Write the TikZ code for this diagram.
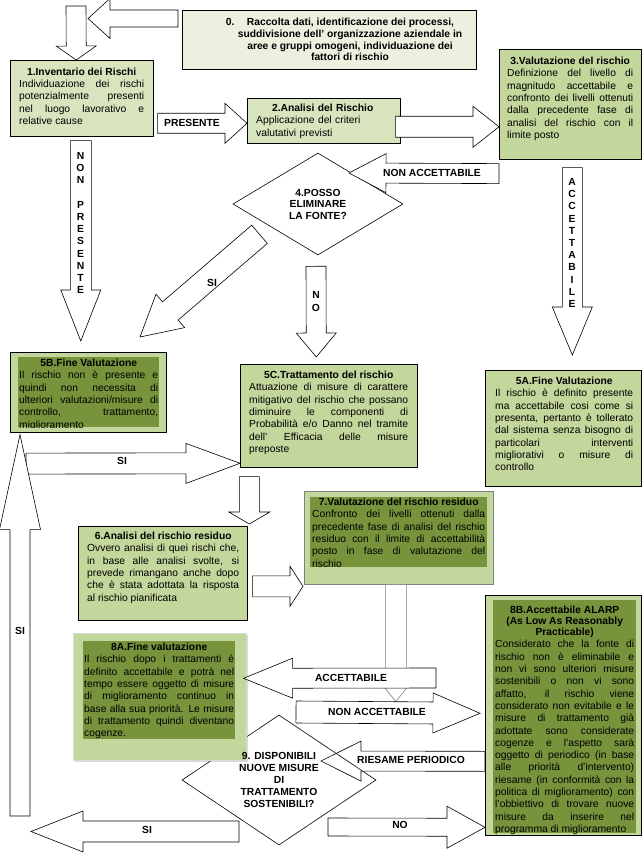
\documentclass[tikz,border=0pt]{standalone}
\usepackage{fontspec}
\setmainfont{Liberation Sans}
\usetikzlibrary{shapes.geometric,positioning,calc,shadows}

\definecolor{pale}{HTML}{EBF1DE}
\definecolor{light}{HTML}{D7E4BD}
\definecolor{mid}{HTML}{C3D69B}
\definecolor{dark}{HTML}{77933C}

\setlength{\parindent}{0pt}
\tolerance=10000
\hyphenpenalty=10000

\newcommand{\ttl}[1]{{\centering\bfseries #1\par}}
\newcommand{\blockarrow}[6][]{%
	\coordinate (bh) at ($(#3)!#6!(#2)$);
	\draw[barrow,#1] ($(#2)!#4!90:(#3)$) -- ($(bh)!#4!90:(#3)$) -- ($(bh)!#5!90:(#3)$) -- (#3)
	-- ($(bh)!#5!-90:(#3)$) -- ($(bh)!#4!-90:(#3)$) -- ($(#2)!#4!-90:(#3)$) -- cycle;}

\begin{document}
\begin{tikzpicture}[x=1pt, y=-1pt]
		\tikzstyle{box}=[draw=black, anchor=north west, inner sep=0pt, line width=0.6pt]
		\tikzstyle{inbox}=[fill=dark, anchor=north west, inner sep=0pt]
		\tikzstyle{txt}=[anchor=north west, inner sep=0pt, align=justify, font=\fontsize{10.3}{12.3}\selectfont]
		\tikzstyle{decision}=[diamond, draw=black, fill=white, aspect=1.5, inner sep=0pt, align=center, line width=0.6pt, font=\bfseries\fontsize{10.3}{12.2}\selectfont]
		\tikzstyle{lbl}=[inner sep=0pt, align=center, font=\bfseries\fontsize{10.3}{12.2}\selectfont]
		\tikzstyle{barrow}=[draw=black, fill=white, line width=0.6pt, line join=miter]
		\useasboundingbox (0,0) rectangle (642,853);

		% steps
		\node[box, fill=pale, minimum width=294pt, minimum height=59pt] (S0) at (182,10) {};
		\node[txt, align=center, anchor=north, font=\bfseries\fontsize{10.3}{11.7}\selectfont] at (350,18) {\hspace*{-20pt}0.\hspace{1.2em}Raccolta dati, identificazione dei processi,\\suddivisione dell’ organizzazione aziendale in\\aree e gruppi omogeni, individuazione dei\\fattori di rischio};

		\node[box, fill=light, minimum width=143pt, minimum height=76pt] (S1) at (10,60) {};
		\node[txt, text width=125pt] at (19,67.5) {\ttl{1.Inventario dei Rischi}Individuazione dei rischi\linebreak potenzialmente presenti\linebreak nel luogo lavorativo e\linebreak relative cause};

		\node[box, fill=light, minimum width=153pt, minimum height=45pt] (S2) at (247,98) {};
		\node[txt, text width=133pt, align=left] at (256,104) {\ttl{2.Analisi del Rischio}Applicazione del criteri\newline valutativi previsti};

		\node[box, fill=mid, minimum width=142pt, minimum height=110pt] (S3) at (499,49) {};
		\node[txt, text width=126pt] at (507,57) {\ttl{3.Valutazione del rischio}Definizione del livello di\linebreak magnitudo accettabile e\linebreak confronto dei livelli ottenuti\linebreak dalla precedente fase di\linebreak analisi del rischio con il\linebreak limite posto};

		\node[decision, minimum width=170pt, minimum height=102pt, font=\bfseries\fontsize{10.3}{11.5}\selectfont] (D4) at (318,204) {4.POSSO\\ELIMINARE\\LA FONTE?};

		\node[box, fill=mid, minimum width=156pt, minimum height=80pt] (S5B) at (10,352) {};
		\node[inbox, minimum width=141pt, minimum height=70pt] (S5Bin) at (18,357) {};
		\begin{scope}
			\clip (18,357) rectangle (159,427);
			\node[txt, text width=139pt] at (19,359) {\ttl{5B.Fine Valutazione}Il rischio non è presente e\linebreak quindi non necessita di\linebreak ulteriori valutazioni/misure di\linebreak controllo, trattamento,\linebreak miglioramento};
		\end{scope}

		\node[box, fill=mid, minimum width=177pt, minimum height=103pt] (S5C) at (240,364) {};
		\node[txt, text width=159pt] at (249,371) {\ttl{5C.Trattamento del rischio}Attuazione di misure di carattere\linebreak mitigativo del rischio che possano\linebreak diminuire le componenti di\linebreak Probabilità e/o Danno nel tramite\linebreak dell’ Efficacia delle misure\linebreak preposte};

		\node[box, fill=mid, minimum width=156pt, minimum height=116pt] (S5A) at (485,370) {};
		\node[txt, text width=138pt] at (495,377) {\ttl{5A.Fine Valutazione}Il rischio è definito presente\linebreak ma accettabile cosi come si\linebreak presenta, pertanto è tollerato\linebreak dal sistema senza bisogno di\linebreak particolari interventi\linebreak migliorativi o misure di\linebreak controllo};

		\node[box, fill=mid, minimum width=169pt, minimum height=94pt] (S6) at (78,526) {};
		\node[txt, text width=152pt] at (87,532) {\ttl{6.Analisi del rischio residuo}Ovvero analisi di quei rischi che,\linebreak in base alle analisi svolte, si\linebreak prevede rimangano anche dopo\linebreak che è stata adottata la risposta\linebreak al rischio pianificata};

		\node[box, draw=gray, fill=mid, minimum width=189pt, minimum height=93pt] (S7) at (304,491) {};
		\node[inbox, minimum width=177pt, minimum height=70pt] (S7in) at (310,497) {};
		\node[txt, text width=173pt] at (312,498) {\ttl{7.Valutazione del rischio residuo}Confronto dei livelli ottenuti dalla\linebreak precedente fase di analisi del rischio\linebreak residuo con il limite di accettabilità\linebreak posto in fase di valutazione del\linebreak rischio};

		% diamond 9 lies partly under box 8A, its text on top
		\node[decision, minimum width=194pt, minimum height=130pt] (D9) at (279,780) {};

		\node[box, draw=gray!30, fill=mid, minimum width=173pt, minimum height=127pt, drop shadow={shadow xshift=2pt, shadow yshift=-2pt, opacity=0.3}] (S8A) at (73,633) {};
		\node[inbox, minimum width=152pt, minimum height=98pt] (S8Ain) at (83,641) {};
		\node[txt, text width=150pt] at (84,643) {\ttl{8A.Fine valutazione}Il rischio dopo i trattamenti è\linebreak definito accettabile e potrà nel\linebreak tempo essere oggetto di misure\linebreak di miglioramento continuo in\linebreak base alla sua priorità. Le misure\linebreak di trattamento quindi diventano\linebreak cogenze.};
		\node[lbl] (D9q) at (D9.center) {9. DISPONIBILI\\NUOVE MISURE\\DI\\TRATTAMENTO\\SOSTENIBILI?};

		\node[box, fill=mid, minimum width=156pt, minimum height=240pt] (S8B) at (485,595) {};
		\node[inbox, minimum width=143pt, minimum height=233pt] (S8Bin) at (493,600) {};
		\node[txt, text width=139pt] at (495,606) {{\centering\bfseries\fontsize{10.3}{11}\selectfont 8B.Accettabile ALARP\linebreak (As Low As Reasonably\linebreak Practicable)\par}\parfillskip=0pt Considerato che la fonte di\linebreak rischio non è eliminabile e\linebreak non vi sono ulteriori misure\linebreak sostenibili o non vi sono\linebreak affatto, il rischio viene\linebreak considerato non evitabile e le\linebreak misure di trattamento già\linebreak adottate sono considerate\linebreak cogenze e l’aspetto sarà\linebreak oggetto di periodico (in base\linebreak alle priorità d’intervento)\linebreak riesame (in conformità con la\linebreak politica di miglioramento) con\linebreak l’obbiettivo di trovare nuove\linebreak misure da inserire nel\linebreak programma di miglioramento};

		% block arrows
		\coordinate (a0s) at ($(S0.north west)+(-4,8.5)$);
		\coordinate (a0t) at (88,18.5);
		\blockarrow{a0s}{a0t}{8.5pt}{20pt}{22pt}
		\coordinate (a1s) at (76,6);
		\coordinate (a1t) at ($(S1.north)+(-5.5,0)$);
		\blockarrow{a1s}{a1t}{10pt}{20pt}{14pt}
		\coordinate (a2s) at ($(S1.east)+(4,25)$);
		\coordinate (a2t) at ($(S2.west)+(0,2.5)$);
		\blockarrow{a2s}{a2t}{10pt}{20pt}{22pt}
		\coordinate (a3s) at ($(S2.east)+(-5,6)$);
		\coordinate (a3t) at ($(S3.west)+(0,22.5)$);
		\blockarrow{a3s}{a3t}{10.5pt}{20.5pt}{26pt}
		\coordinate (a4s) at ($(S3.south west)+(0,14)$);
		\coordinate (a4t) at (349,173);
		\blockarrow{a4s}{a4t}{10pt}{19.5pt}{37pt}
		\coordinate (a5s) at ($(S1.south)+(-1,4)$);
		\coordinate (a5t) at ($(S5B.north)+(-7.5,-11)$);
		\blockarrow{a5s}{a5t}{10.5pt}{20pt}{51pt}
		\coordinate (a6s) at ($(S3.south)+(2,8)$);
		\coordinate (a6t) at ($(S5A.north)+(9,-15)$);
		\blockarrow{a6s}{a6t}{10pt}{20pt}{48pt}
		\coordinate (a7s) at ($(D4.south)+(-58.5,-21)$);
		\coordinate (a7t) at (140,337);
		\blockarrow{a7s}{a7t}{12pt}{22pt}{40pt}
		\coordinate (a8s) at ($(D4.south)+(-2,11)$);
		\coordinate (a8t) at ($(S5C.north)+(-12.5,-7)$);
		\blockarrow{a8s}{a8t}{10pt}{20pt}{24pt}
		\coordinate (a9s) at ($(S5B.south west)+(16,31)$);
		\coordinate (a9t) at ($(S5C.west)+(0,47.5)$);
		\blockarrow{a9s}{a9t}{10.5pt}{20pt}{54pt}
		\coordinate (a10s) at ($(S5C.south)+(-79.5,9)$);
		\coordinate (a10t) at ($(S6.north)+(86.5,-2)$);
		\blockarrow{a10s}{a10t}{10pt}{20.5pt}{12pt}
		\coordinate (a11s) at (20,816);
		\coordinate (a11t) at ($(S5B.south west)+(10,2)$);
		\blockarrow{a11s}{a11t}{10pt}{20.5pt}{95pt}
		\coordinate (a12s) at ($(S6.east)+(5,13)$);
		\coordinate (a12t) at ($(S7.west)+(-1,48.5)$);
		\blockarrow{a12s}{a12t}{10.5pt}{20pt}{13pt}
		\coordinate (a13s) at ($(S7.south)+(-3,0)$);
		\coordinate (a13t) at ($(S7.south)+(-3,117)$);
		\blockarrow[draw=gray]{a13s}{a13t}{10.5pt}{20pt}{25pt}
		\coordinate (a14s) at (436,678);
		\coordinate (a14t) at ($(S8A.east)+(-3,-18.5)$);
		\blockarrow{a14s}{a14t}{10pt}{20pt}{49pt}
		\coordinate (a15s) at (296,712);
		\coordinate (a15t) at ($(S8B.west)+(-5,-2)$);
		\blockarrow{a15s}{a15t}{11pt}{20pt}{47pt}
		\coordinate (a16s) at ($(S8B.west)+(0,46)$);
		\coordinate (a16t) at (321,761);
		\blockarrow[fill=none]{a16s}{a16t}{10pt}{20pt}{40pt}
		\coordinate (a17s) at (239,831.5);
		\coordinate (a17t) at (31,831.5);
		\blockarrow{a17s}{a17t}{10.5pt}{20.5pt}{52pt}
		\coordinate (a18s) at (328,827);
		\coordinate (a18t) at ($(S8B.west)+(0,112)$);
		\blockarrow{a18s}{a18t}{9pt}{21pt}{38pt}

		% labels
		\node[lbl] (L1) at (192,123) {PRESENTE};
		\node[lbl] (L2) at (432,173) {NON ACCETTABILE};
		\node[lbl] (L3) at (80.5,223) {N\\O\\N\\[12.2pt]P\\R\\E\\S\\E\\N\\T\\E};
		\node[lbl] (L4) at (572,243) {A\\C\\C\\E\\T\\T\\A\\B\\I\\L\\E};
		\node[lbl] (L5) at (212,283) {SI};
		\node[lbl] (L6) at (316,301.5) {N\\O};
		\node[lbl] (L7) at (122,461) {SI};
		\node[lbl] (L8) at (20,631) {SI};
		\node[lbl] (L9) at (351,678) {ACCETTABILE};
		\node[lbl] (L10) at (377,712) {NON ACCETTABILE};
		\node[lbl] (L11) at (411,760) {RIESAME PERIODICO};
		\node[lbl] (L12) at (400,825) {NO};
		\node[lbl] (L13) at (147,830) {SI};
	\end{tikzpicture}
\end{document}
